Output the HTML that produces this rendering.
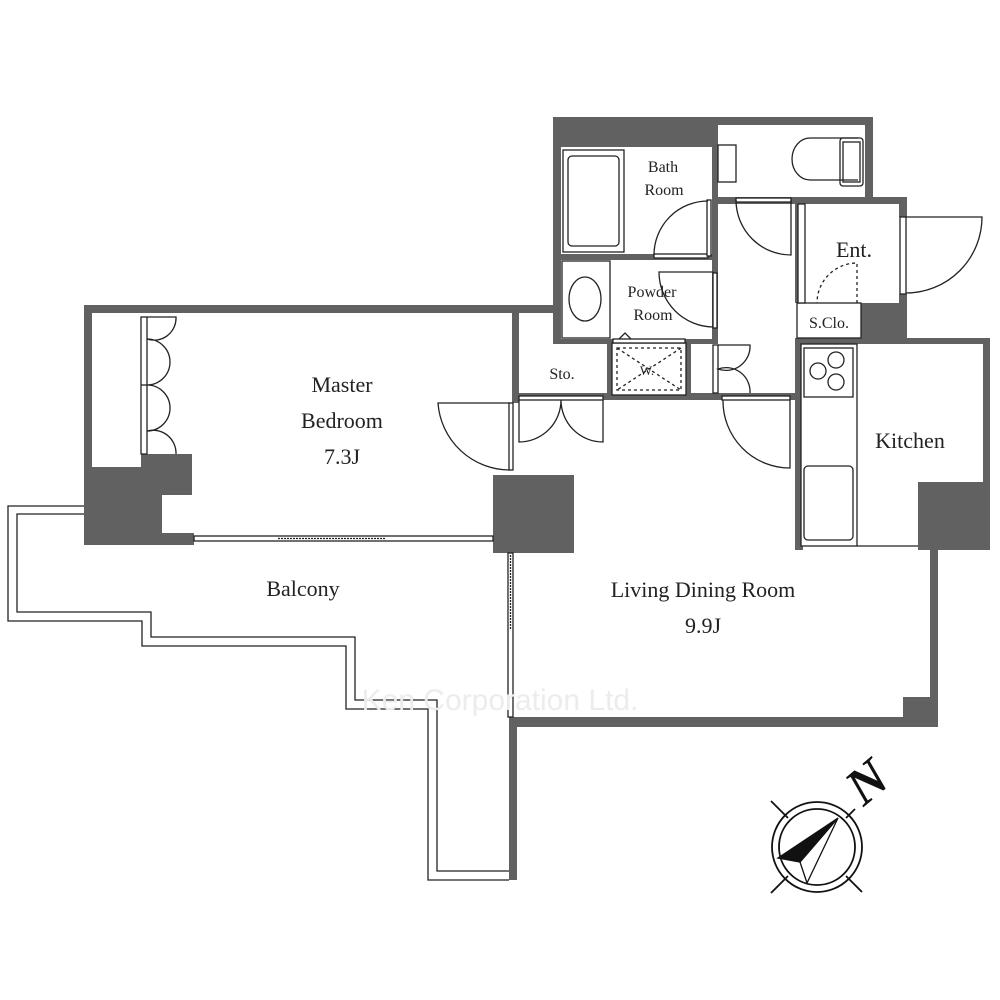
<!DOCTYPE html>
<html><head><meta charset="utf-8"><style>
html,body{margin:0;padding:0;background:#fff;}
svg{display:block;}
text{font-family:"Liberation Serif",serif;fill:#222;}
</style></head><body>
<svg width="1000" height="1000" viewBox="0 0 1000 1000" xmlns="http://www.w3.org/2000/svg">
<rect width="1000" height="1000" fill="#fff"/>
<g fill="#616161">
<rect x="553" y="117" width="165" height="30"/>
<rect x="553" y="117" width="8" height="226"/>
<rect x="712" y="117" width="6" height="86"/>
<rect x="712" y="117" width="161" height="8"/>
<rect x="865" y="117" width="8" height="86"/>
<rect x="712" y="197" width="195" height="7"/>
<rect x="899" y="197" width="8" height="20"/>
<rect x="899" y="294" width="8" height="44"/>
<rect x="861" y="303" width="46" height="35"/>
<rect x="561" y="254" width="151" height="6"/>
<rect x="712" y="203" width="6" height="140"/>
<rect x="553" y="339" width="165" height="5"/>
<rect x="84" y="305" width="477" height="8"/>
<rect x="84" y="305" width="8" height="240"/>
<rect x="84" y="467" width="78" height="78"/>
<rect x="141" y="454" width="51" height="41"/>
<rect x="84" y="533" width="110" height="12"/>
<rect x="512" y="313" width="7" height="90"/>
<rect x="607" y="343" width="5" height="55"/>
<rect x="686" y="343" width="5" height="55"/>
<rect x="512" y="393" width="283" height="7"/>
<rect x="493" y="475" width="81" height="78"/>
<rect x="795" y="338" width="195" height="6"/>
<rect x="795" y="204" width="3" height="99"/>
<rect x="795" y="338" width="8" height="212"/>
<rect x="983" y="338" width="7" height="150"/>
<rect x="918" y="482" width="72" height="68"/>
<rect x="930" y="540" width="8" height="187"/>
<rect x="903" y="697" width="35" height="30"/>
<rect x="512" y="717" width="426" height="10"/>
<rect x="509" y="717" width="8" height="163"/>
</g>
<g fill="none" stroke="#222" stroke-width="1.3">
<rect x="563" y="150" width="61" height="102"/>
<rect x="568" y="156" width="51" height="90" rx="4"/>
<rect x="562" y="261" width="48" height="77" fill="#fff"/>
<ellipse cx="585" cy="299" rx="16" ry="22"/>
<rect x="718" y="145" width="18" height="37"/>
<path d="M858 138 L810 138 A18 21 0 0 0 810 180 L858 180"/>
<rect x="840" y="138" width="23" height="48" rx="3"/>
<rect x="843" y="142" width="17" height="40"/>
<rect x="797" y="303" width="64" height="35" fill="#fff"/>
<rect x="612" y="343" width="74" height="52" fill="#fff"/>
<rect x="617" y="348" width="64" height="42" stroke-dasharray="3,3"/>
<path d="M617 348 L681 390 M681 348 L617 390" stroke-dasharray="3,3"/>
<rect x="613" y="339" width="72" height="4" fill="#fff"/>
<path d="M619 339 L625 333 L631 339"/>
<rect x="801" y="344" width="56" height="202" fill="#fff"/>
<rect x="804" y="348" width="49" height="49"/>
<circle cx="818" cy="371" r="8"/><circle cx="836" cy="360" r="8"/><circle cx="836" cy="382" r="8"/>
<rect x="804" y="466" width="49" height="74" rx="4"/>
<line x1="857" y1="546" x2="918" y2="546"/>
<rect x="798" y="204" width="7" height="99" fill="#fff"/>
<rect x="654" y="254" width="54" height="4" fill="#fff"/>
<rect x="707" y="200" width="4" height="56" fill="#fff"/>
<path d="M654 255 A54 54 0 0 1 708 201"/>
<rect x="736" y="198" width="55" height="4" fill="#fff"/>
<path d="M736 200 A55 55 0 0 0 791 255 L791 200"/>
<rect x="900" y="217" width="6" height="77" fill="#fff"/>
<path d="M906 217 L982 217 A76 76 0 0 1 906 293"/>
<path d="M857 303 L857 263 A40 40 0 0 0 817 303" stroke-dasharray="3,3"/>
<rect x="713" y="273" width="4" height="55" fill="#fff"/>
<path d="M713 272 L659 272 A55 55 0 0 0 713 327"/>
<rect x="713" y="345" width="5" height="48" fill="#fff"/>
<path d="M718 345 L750 345 A24 24 0 0 1 718 369 A24 24 0 0 1 750 393"/>
<rect x="722" y="396" width="68" height="4" fill="#fff"/>
<path d="M723 400 A67 67 0 0 0 790 468 L790 400"/>
<rect x="519" y="396" width="84" height="4" fill="#fff"/>
<path d="M519 400 L519 442 A42 42 0 0 0 561 400 A42 42 0 0 0 603 442 L603 400"/>
<rect x="509" y="403" width="4" height="67" fill="#fff"/>
<path d="M510 403 L438 403 A72 72 0 0 0 510 470"/>
<rect x="141" y="317" width="6" height="137" fill="#fff"/>
<line x1="141" y1="385" x2="147" y2="385"/>
<path d="M147 317 L176 317 A22 22 0 0 1 147 339 A23 23 0 0 1 147 385 A23 23 0 0 1 147 431 A23 23 0 0 1 176 454"/>
<rect x="194" y="536" width="299" height="5" fill="#fff"/>
<line x1="278" y1="538.5" x2="385" y2="538.5" stroke-dasharray="2,1"/>
<rect x="508" y="553" width="5" height="164" fill="#fff"/>
<line x1="510.5" y1="555" x2="510.5" y2="630" stroke-dasharray="2,1"/>
<path d="M84 506 L8 506 L8 621 L142 621 L142 646 L346 646 L346 709 L428 709 L428 880 L509 880"/>
<path d="M84 514 L17 514 L17 612 L151 612 L151 637 L355 637 L355 700 L437 700 L437 871 L509 871"/>
</g>
<text x="500" y="710" font-size="30" text-anchor="middle" style="font-family:'Liberation Sans',sans-serif;fill:#ececec">Ken Corporation Ltd.</text>
<g font-size="22" text-anchor="middle">
<text x="342" y="392">Master</text>
<text x="342" y="428">Bedroom</text>
<text x="342" y="464">7.3J</text>
<text x="303" y="596">Balcony</text>
<text x="703" y="597">Living Dining Room</text>
<text x="703" y="633">9.9J</text>
<text x="910" y="448">Kitchen</text>
<text x="854" y="257">Ent.</text>
</g>
<g font-size="16" text-anchor="middle">
<text x="663" y="172">Bath</text>
<text x="664" y="195">Room</text>
<text x="652" y="297">Powder</text>
<text x="653" y="320">Room</text>
<text x="562" y="379">Sto.</text>
<text x="647" y="375" font-size="13">W.</text>
<text x="829" y="328">S.Clo.</text>
</g>
<g fill="none" stroke="#111" stroke-width="1.8">
<circle cx="817" cy="847" r="45"/>
<circle cx="817" cy="847" r="38"/>
<line x1="771" y1="801" x2="788" y2="818"/>
<line x1="846" y1="876" x2="862" y2="892"/>
<line x1="771" y1="893" x2="788" y2="876"/>
<line x1="846" y1="818" x2="855" y2="809"/>
<path d="M838 818 L800 862 L807 883 Z" fill="#fff" stroke-width="1.3"/>
<path d="M838 818 L778 858 L800 862 Z" fill="#111" stroke-width="1.3"/>
</g>
<text x="0" y="0" font-size="52" font-weight="bold" font-style="italic" text-anchor="middle" transform="translate(878,795) rotate(-40)" style="fill:#111">N</text>
</svg>
</body></html>
